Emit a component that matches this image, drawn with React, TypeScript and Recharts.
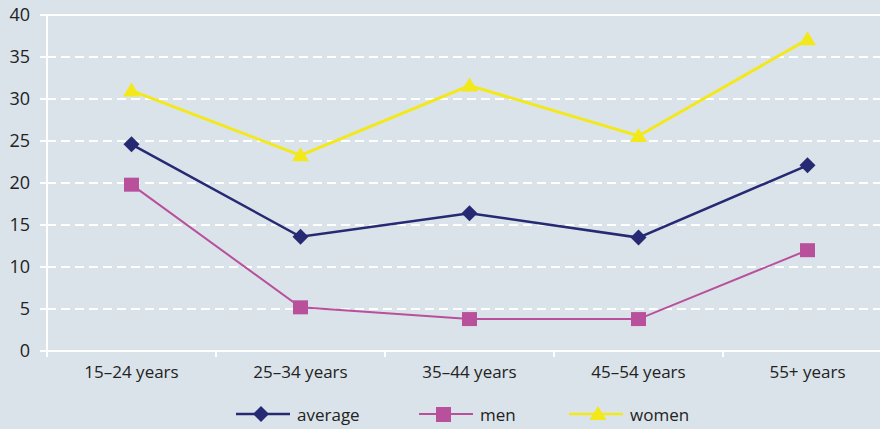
import {
  LineChart,
  Line,
  XAxis,
  YAxis,
  CartesianGrid,
  Legend,
  ReferenceLine,
} from "recharts";

const AGE_GROUPS = ["15–24 years", "25–34 years", "35–44 years", "45–54 years", "55+ years"];
const AVERAGE = [24.6, 13.6, 16.4, 13.5, 22.1];
const MEN = [19.8, 5.2, 3.8, 3.8, 12.0];
const WOMEN = [31.0, 23.3, 31.6, 25.6, 37.1];
const Y_TICKS = [0, 5, 10, 15, 20, 25, 30, 35, 40];

const NAVY = "#262a72";
const PINK = "#b8509b";
const YELLOW = "#f2e81a";
const BG = "#dbe3ea";
const FONT = "'Open Sans', sans-serif";

const data = AGE_GROUPS.map((age, i) => ({
  age,
  average: AVERAGE[i],
  men: MEN[i],
  women: WOMEN[i],
}));

function diamond(props: any) {
  const { cx, cy, index } = props;
  if (cx == null || cy == null) return <g key={`d-${index}`} />;
  return (
    <path
      key={`d-${index}`}
      d={`M${cx} ${cy - 8}L${cx + 8} ${cy}L${cx} ${cy + 8}L${cx - 8} ${cy}Z`}
      fill={NAVY}
    />
  );
}

function square(props: any) {
  const { cx, cy, index } = props;
  if (cx == null || cy == null) return <g key={`s-${index}`} />;
  return <rect key={`s-${index}`} x={cx - 7.5} y={cy - 7} width={15} height={14} fill={PINK} />;
}

function triangle(props: any) {
  const { cx, cy, index } = props;
  if (cx == null || cy == null) return <g key={`t-${index}`} />;
  return (
    <path
      key={`t-${index}`}
      d={`M${cx} ${cy - 8}L${cx + 8.5} ${cy + 6}L${cx - 8.5} ${cy + 6}Z`}
      fill={YELLOW}
    />
  );
}

function XTick(props: any) {
  const { x, y, payload } = props;
  const edge = x - (payload.offset || 0);
  return (
    <g>
      <line x1={edge} x2={edge} y1={y} y2={y + 6} stroke="#fff" strokeWidth={2} />
      <text x={x} y={y + 27} textAnchor="middle" fill="#222" fontSize={17} fontFamily={FONT}>
        {payload.value}
      </text>
    </g>
  );
}

function LegendIcon({ kind }: { kind: string }) {
  return (
    <svg width={54} height={20} style={{ display: "block" }}>
      {kind === "average" && (
        <>
          <line x1={0} x2={54} y1={10} y2={10} stroke={NAVY} strokeWidth={2.5} />
          <path d="M25 2L33 10L25 18L17 10Z" fill={NAVY} />
        </>
      )}
      {kind === "men" && (
        <>
          <line x1={0} x2={54} y1={10} y2={10} stroke={PINK} strokeWidth={2} />
          <rect x={17} y={3} width={15} height={15} fill={PINK} />
        </>
      )}
      {kind === "women" && (
        <>
          <line x1={0} x2={54} y1={10} y2={10} stroke={YELLOW} strokeWidth={2.5} />
          <path d="M29 2L37.5 16L20.5 16Z" fill={YELLOW} />
        </>
      )}
    </svg>
  );
}

function LegendContent() {
  const items = [
    { key: "average", label: "average", width: 183 },
    { key: "men", label: "men", width: 150 },
    { key: "women", label: "women", width: 140 },
  ];
  return (
    <div
      style={{
        display: "flex",
        alignItems: "center",
        height: 30,
        paddingLeft: 236,
        fontFamily: FONT,
        fontSize: 17,
        color: "#222",
      }}
    >
      {items.map((it) => (
        <div key={it.key} style={{ display: "flex", alignItems: "center", width: it.width }}>
          <LegendIcon kind={it.key} />
          <span style={{ marginLeft: 7 }}>{it.label}</span>
        </div>
      ))}
    </div>
  );
}

export default function App() {
  return (
    <div
      style={{
        position: "absolute",
        left: 0,
        top: 0,
        width: 880,
        height: 429,
        overflow: "hidden",
        background: BG,
      }}
    >
      <LineChart width={900} height={429} data={data} margin={{ top: 15, right: 8, bottom: 0, left: 0 }}>
        <CartesianGrid vertical={false} stroke="#fff" strokeWidth={2} strokeDasharray="9 5" />
        <ReferenceLine y={40} stroke="#fff" strokeWidth={2} />
        <XAxis
          dataKey="age"
          scale="band"
          height={48}
          axisLine={{ stroke: "#fff", strokeWidth: 2 }}
          tickLine={false}
          tickSize={0}
          tickMargin={0}
          tick={<XTick />}
          interval={0}
        />
        <YAxis
          width={47}
          domain={[0, 40]}
          ticks={Y_TICKS}
          interval={0}
          axisLine={{ stroke: "#fff", strokeWidth: 2 }}
          tickLine={{ stroke: "#fff", strokeWidth: 2 }}
          tickSize={7}
          tickMargin={10}
          tick={{ fill: "#222", fontSize: 18, fontFamily: FONT }}
        />
        <Line
          dataKey="average"
          stroke={NAVY}
          strokeWidth={2.5}
          dot={diamond}
          activeDot={false}
          isAnimationActive={false}
        />
        <Line
          dataKey="men"
          stroke={PINK}
          strokeWidth={2}
          dot={square}
          activeDot={false}
          isAnimationActive={false}
        />
        <Line
          dataKey="women"
          stroke={YELLOW}
          strokeWidth={3}
          dot={triangle}
          activeDot={false}
          isAnimationActive={false}
        />
        <Legend
          verticalAlign="bottom"
          content={<LegendContent />}
          wrapperStyle={{ left: 0, width: 880 }}
        />
      </LineChart>
    </div>
  );
}
